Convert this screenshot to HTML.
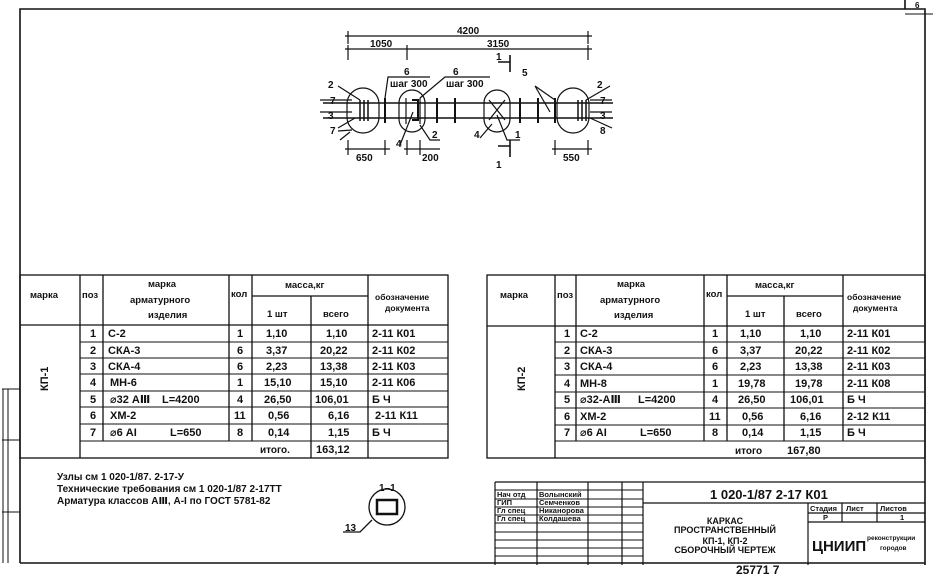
<!DOCTYPE html>
<html><head><meta charset="utf-8"><style>
html,body{margin:0;padding:0;background:#fff;}
svg{display:block}
text{font-family:"Liberation Sans","DejaVu Sans",sans-serif;fill:#111;font-weight:bold}
</style></head><body>
<svg width="933" height="574" viewBox="0 0 933 574" xmlns="http://www.w3.org/2000/svg">
<g stroke="#111" fill="none" stroke-width="1.6">
<path d="M20 563 V9 H905 V0 M905 9 H925 V565 M20 563 H925"/>
<path d="M905 14 H933" stroke-width="1"/>
<path d="M2 389 H20 M2 440 H20 M2 512 H20 M3 389 V563 M8 389 V563" stroke-width="1"/>
</g>
<text x="915" y="8" font-size="8">6</text>

<g stroke="#111" fill="none" stroke-width="1.2">
<path d="M345 36 H592 M348 31 V44 M588 31 V44 M345 49 H592 M348 45 V60 M407 45 V60 M588 45 V60"/>
<path d="M323 103 H613 M323 118 H613" stroke-width="1.5"/>
<rect x="347" y="88" width="32" height="45" rx="16"/>
<rect x="399" y="90" width="26" height="42" rx="13"/>
<rect x="484" y="90" width="26" height="42" rx="13"/>
<rect x="557" y="88" width="32" height="45" rx="16"/>
<path d="M385 98 V123 M437 98 V123 M455 98 V123 M520 98 V123 M538 98 V123 M555 98 V123" stroke-width="2"/>
<path d="M360 100 V121 M364 100 V121 M368 100 V121 M578 100 V121 M582 100 V121 M586 100 V121" stroke-width="1.5"/>
<path d="M406 98 V124 M420 98 V124 M489 100 L505 120 M505 100 L489 120"/>
<path d="M412 100 H418 V120 H412" stroke-width="2"/>
<path d="M338 86 L360 100 M320 100 H352 M320 112 H352 M338 128 L355 118 M338 131 L352 130"/>
<path d="M385 98 L388 77 H430 M420 98 L445 77 H490"/>
<path d="M400 145 L413 112 M420 125 L430 140 H440 M480 138 L492 124 M497 115 L507 140 H520"/>
<path d="M535 86 L555 100 M535 86 L550 112 M610 86 L586 100 M612 100 H590 M612 112 H590 M612 128 L590 118"/>
<path d="M350 132 L340 140"/>
<path d="M345 149 H390 M348 140 V155 M385 140 V155 M404 149 H440 M407 140 V155 M420 140 V155 M552 149 H592 M555 140 V155 M588 140 V155"/>
<path d="M498 62 H510 M510 55 V72 M498 146 H510 M510 140 V157" stroke-width="1.6"/>
</g>
<g font-size="10">
<text x="457" y="34">4200</text>
<text x="370" y="47">1050</text>
<text x="487" y="47">3150</text>
<text x="404" y="75">6</text><text x="390" y="87">шаг 300</text>
<text x="453" y="75">6</text><text x="446" y="87">шаг 300</text>
<text x="496" y="60">1</text><text x="496" y="168">1</text>
<text x="522" y="76">5</text>
<text x="328" y="88">2</text><text x="330" y="104">7</text><text x="328" y="119">3</text><text x="330" y="134">7</text>
<text x="597" y="88">2</text><text x="600" y="104">7</text><text x="600" y="119">3</text><text x="600" y="134">8</text>
<text x="396" y="147">4</text><text x="432" y="138">2</text><text x="474" y="138">4</text><text x="515" y="138">1</text>
<text x="356" y="161">650</text><text x="422" y="161">200</text><text x="563" y="161">550</text>
</g>

<g stroke="#111" fill="none" stroke-width="1.3">
<rect x="20" y="275" width="428" height="183"/>
<path d="M80 275 V458 M103 275 V441 M229 275 V441 M252 275 V441 M311 296 V458 M368 275 V458 M252 296 H368 M20 325 H448"/>
<path d="M80 342 H448 M80 358 H448 M80 374 H448 M80 391 H448 M80 407 H448 M80 424 H448 M80 441 H448" stroke-width="1"/>
</g>
<g font-size="9.5">
<text x="30" y="298">марка</text><text x="82" y="298">поз</text>
<text x="148" y="287">марка</text><text x="130" y="303">арматурного</text><text x="148" y="318">изделия</text>
<text x="231" y="297">кол</text><text x="285" y="288">масса,кг</text>
<text x="267" y="317">1 шт</text><text x="323" y="317">всего</text>
<text x="375" y="300" font-size="8.5">обозначение</text><text x="385" y="311" font-size="8.5">документа</text>
<text x="44" y="395" transform="rotate(-90 44 391)" font-size="11">КП-1</text>
</g>
<g font-size="11">
<text x="90" y="337">1</text><text x="108" y="337">С-2</text><text x="237" y="337">1</text><text x="266" y="337">1,10</text><text x="326" y="337">1,10</text><text x="372" y="337">2-11 К01</text>
<text x="90" y="354">2</text><text x="108" y="354">СКА-3</text><text x="237" y="354">6</text><text x="266" y="354">3,37</text><text x="320" y="354">20,22</text><text x="372" y="354">2-11 К02</text>
<text x="90" y="370">3</text><text x="108" y="370">СКА-4</text><text x="237" y="370">6</text><text x="266" y="370">2,23</text><text x="320" y="370">13,38</text><text x="372" y="370">2-11 К03</text>
<text x="90" y="386">4</text><text x="110" y="386">МН-6</text><text x="237" y="386">1</text><text x="264" y="386">15,10</text><text x="320" y="386">15,10</text><text x="372" y="386">2-11 К06</text>
<text x="90" y="403">5</text><text x="110" y="403">⌀32 АⅢ</text><text x="162" y="403">L=4200</text><text x="237" y="403">4</text><text x="264" y="403">26,50</text><text x="315" y="403">106,01</text><text x="372" y="403">Б Ч</text>
<text x="90" y="419">6</text><text x="110" y="419">ХМ-2</text><text x="234" y="419">11</text><text x="268" y="419">0,56</text><text x="328" y="419">6,16</text><text x="375" y="419">2-11 К11</text>
<text x="90" y="436">7</text><text x="110" y="436">⌀6 АI</text><text x="170" y="436">L=650</text><text x="237" y="436">8</text><text x="268" y="436">0,14</text><text x="328" y="436">1,15</text><text x="372" y="436">Б Ч</text>
<text x="260" y="453" font-size="10">итого.</text><text x="316" y="453">163,12</text>
</g>
<g font-size="10">
<text x="57" y="480">Узлы см 1 020-1/87. 2-17-У</text>
<text x="57" y="492">Технические требования см 1 020-1/87 2-17ТТ</text>
<text x="57" y="504">Арматура классов АⅢ, А-I по ГОСТ 5781-82</text>
<text x="379" y="491">1–1</text><text x="345" y="531">13</text>
</g>
<g stroke="#111" fill="none" stroke-width="1.3">
<circle cx="387" cy="507" r="18"/><rect x="377" y="500" width="20" height="14" stroke-width="2.5"/>
<path d="M343 532 H360 L372 520"/>
</g>

<g stroke="#111" fill="none" stroke-width="1.3">
<rect x="487" y="275" width="438" height="183"/>
<path d="M555 275 V458 M576 275 V441 M704 275 V441 M727 275 V441 M784 296 V441 M843 275 V441 M727 296 H843 M487 326 H925"/>
<path d="M555 342 H925 M555 358 H925 M555 375 H925 M555 392 H925 M555 408 H925 M555 425 H925 M555 441 H925" stroke-width="1"/>
</g>
<g font-size="9.5">
<text x="500" y="298">марка</text><text x="557" y="298">поз</text>
<text x="617" y="287">марка</text><text x="600" y="303">арматурного</text><text x="614" y="318">изделия</text>
<text x="706" y="297">кол</text><text x="755" y="288">масса,кг</text>
<text x="745" y="317">1 шт</text><text x="796" y="317">всего</text>
<text x="847" y="300" font-size="8.5">обозначение</text><text x="853" y="311" font-size="8.5">документа</text>
<text x="521" y="395" transform="rotate(-90 521 391)" font-size="11">КП-2</text>
</g>
<g font-size="11">
<text x="564" y="337">1</text><text x="580" y="337">С-2</text><text x="712" y="337">1</text><text x="740" y="337">1,10</text><text x="800" y="337">1,10</text><text x="847" y="337">2-11 К01</text>
<text x="564" y="354">2</text><text x="580" y="354">СКА-3</text><text x="712" y="354">6</text><text x="740" y="354">3,37</text><text x="795" y="354">20,22</text><text x="847" y="354">2-11 К02</text>
<text x="564" y="370">3</text><text x="580" y="370">СКА-4</text><text x="712" y="370">6</text><text x="740" y="370">2,23</text><text x="795" y="370">13,38</text><text x="847" y="370">2-11 К03</text>
<text x="564" y="387">4</text><text x="580" y="387">МН-8</text><text x="712" y="387">1</text><text x="738" y="387">19,78</text><text x="795" y="387">19,78</text><text x="847" y="387">2-11 К08</text>
<text x="564" y="403">5</text><text x="580" y="403">⌀32-АⅢ</text><text x="638" y="403">L=4200</text><text x="712" y="403">4</text><text x="738" y="403">26,50</text><text x="790" y="403">106,01</text><text x="847" y="403">Б Ч</text>
<text x="564" y="420">6</text><text x="580" y="420">ХМ-2</text><text x="709" y="420">11</text><text x="742" y="420">0,56</text><text x="800" y="420">6,16</text><text x="847" y="420">2-12 К11</text>
<text x="564" y="436">7</text><text x="580" y="436">⌀6 АI</text><text x="640" y="436">L=650</text><text x="712" y="436">8</text><text x="742" y="436">0,14</text><text x="800" y="436">1,15</text><text x="847" y="436">Б Ч</text>
<text x="735" y="454" font-size="10">итого</text><text x="787" y="454">167,80</text>
</g>

<g stroke="#111" fill="none" stroke-width="1.2">
<path d="M495 482 H925 M495 482 V565 M537 482 V565 M588 482 V565 M622 482 V565 M643 482 V565"/>
<path d="M495 490 H643 M495 499 H643 M495 507 H643 M495 515 H643 M495 523 H643 M495 532 H643 M495 540 H643 M495 548 H643 M495 556 H643" stroke-width="0.9"/>
<path d="M643 503 H925 M808 503 V565 M808 513 H925 M808 522 H925 M842 503 V522 M877 503 V522"/>
</g>
<g font-size="7.5">
<text x="497" y="497">Нач отд</text><text x="539" y="497">Волынский</text>
<text x="497" y="505">ГИП</text><text x="539" y="505">Семченков</text>
<text x="497" y="513">Гл спец</text><text x="539" y="513">Никанорова</text>
<text x="497" y="521">Гл спец</text><text x="539" y="521">Колдашева</text>
</g>
<text x="710" y="499" font-size="13">1 020-1/87  2-17  К01</text>
<g font-size="9" text-anchor="middle">
<text x="725" y="524">КАРКАС</text>
<text x="725" y="533">ПРОСТРАНСТВЕННЫЙ</text>
<text x="725" y="544">КП-1, КП-2</text>
<text x="725" y="553">СБОРОЧНЫЙ  ЧЕРТЕЖ</text>
</g>
<g font-size="7.5">
<text x="810" y="511">Стадия</text><text x="846" y="511">Лист</text><text x="880" y="511">Листов</text>
<text x="823" y="520">Р</text><text x="900" y="520">1</text>
<text x="812" y="551" font-size="15" font-weight="normal">ЦНИИП</text>
<text x="867" y="540" font-size="6.5">реконструкции</text><text x="880" y="550" font-size="6.5">городов</text>
</g>
<text x="736" y="574" font-size="12" font-weight="normal">25771    7</text>
</svg>
</body></html>
